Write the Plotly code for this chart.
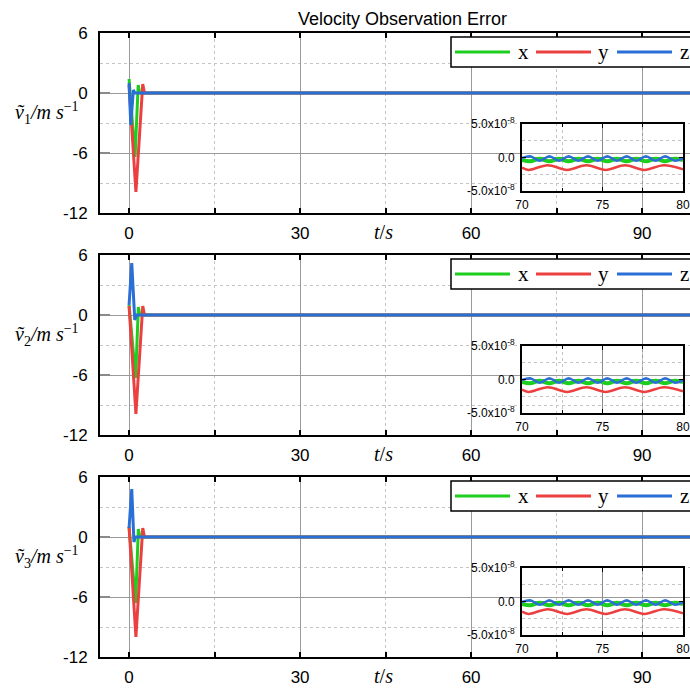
import plotly.graph_objects as go

W, H = 690, 688

# ---------------- data ----------------
# main panels: time (s) and velocity observation error (m/s)
t_x1 = [0, 1.05, 1.6, 1.85, 100]
v_x1 = [1.4, -6.4, 0.8, 0, 0]
t_y1 = [0, 1.2, 2.4, 2.7, 100]
v_y1 = [0.8, -9.9, 0.9, 0, 0]
t_z1 = [0, 0.3, 0.75, 1.0, 100]
v_z1 = [1.0, -3.2, 0.3, 0, 0]

t_x2 = [0, 1.15, 1.63, 1.9, 100]
v_x2 = [1.0, -6.3, 0.8, 0, 0]
t_y2 = [0, 1.2, 2.4, 2.7, 100]
v_y2 = [0.9, -9.9, 0.9, 0, 0]
t_z2 = [0, 0.47, 1.0, 1.3, 100]
v_z2 = [1.0, 5.2, -0.5, 0, 0]

t_x3 = [0, 1.15, 1.63, 1.9, 100]
v_x3 = [1.0, -6.6, 0.8, 0, 0]
t_y3 = [0, 1.2, 2.4, 2.7, 100]
v_y3 = [1.0, -10.0, 0.9, 0, 0]
t_z3 = [0, 0.47, 0.85, 1.1, 100]
v_z3 = [0.9, 4.8, -0.5, 0, 0]

# insets (70-80 s), values in units of 1e-8 m/s
ti_xz = [70.0, 70.5, 71.1, 71.7, 72.3, 72.9, 73.5, 74.1, 74.7, 75.3, 75.9,
         76.5, 77.1, 77.7, 78.3, 78.9, 79.5, 80.0]
vi_z = [-0.1, 0.2, -0.5, 0.2, -0.5, 0.2, -0.5, 0.2, -0.5, 0.2, -0.5,
        0.2, -0.5, 0.2, -0.5, 0.2, -0.5, -0.1]
vi_x = [-0.35, -0.55, -0.2, -0.55, -0.2, -0.55, -0.2, -0.55, -0.2, -0.55, -0.2,
        -0.55, -0.2, -0.55, -0.2, -0.55, -0.2, -0.4]
ti_y = [70.0, 70.4, 71.6, 72.8, 74.0, 75.2, 76.4, 77.6, 78.8, 80.0]
vi_y = [-1.5, -1.85, -1.15, -1.85, -1.15, -1.85, -1.15, -1.85, -1.15, -1.75]

main_x_ticks = [0, 30, 60, 90]
main_y_ticks = [-12, -6, 0, 6]
main_y_text = ["-12", "-6", "0", "6"]
inset_x_ticks = [70, 75, 80]
inset_y_ticks = [-5, 0, 5]
inset_y_text = ["-5.0x10<sup>-8</sup>", "0.0", "5.0x10<sup>-8</sup>"]

names = ["x", "y", "z"]
colors = ["#1ece1e", "#ec4040", "#2a6fd6"]

panels = [
    [(t_x1, v_x1), (t_y1, v_y1), (t_z1, v_z1)],
    [(t_x2, v_x2), (t_y2, v_y2), (t_z2, v_z2)],
    [(t_x3, v_x3), (t_y3, v_y3), (t_z3, v_z3)],
]
inset_series = [(ti_xz, vi_x), (ti_y, vi_y), (ti_xz, vi_z)]

# ---------------- layout helpers ----------------
def px(x):
    return x / W

def py(y):
    return 1 - y / H

tops = [33, 255, 477]
PH = 180

fig = go.Figure()
layout = {}
ann = []
shapes = []
SERIF = "Liberation Serif, Times New Roman, serif"
SANS = "Liberation Sans, Arial, Helvetica, sans-serif"

for i in range(3):
    k = "" if i == 0 else str(i + 1)
    ki = str(i + 4)
    for j in range(3):
        tt, vv = panels[i][j]
        fig.add_trace(go.Scatter(
            x=tt, y=vv, mode="lines", name=names[j],
            line=dict(color=colors[j], width=3),
            xaxis="x" + k, yaxis="y" + k, showlegend=False))
    for j in range(3):
        tt, vv = inset_series[j]
        fig.add_trace(go.Scatter(
            x=tt, y=vv, mode="lines", name=names[j],
            line=dict(color=colors[j], width=4 if j == 0 else 2.5, shape="spline"),
            xaxis="x" + ki, yaxis="y" + ki, showlegend=False))

    top = tops[i]
    bot = top + PH
    layout["xaxis" + k] = dict(
        domain=[px(100), 1], anchor="y" + k, range=[-5.1, 98.4],
        tickmode="array", tickvals=main_x_ticks,
        showgrid=True, gridcolor="#9a9a9a", gridwidth=1,
        ticks="inside", ticklen=5, tickwidth=1.5, tickcolor="black",
        showline=True, linecolor="black", linewidth=2, mirror="ticks",
        zeroline=False, automargin=False, ticklabelstandoff=4,
        tickfont=dict(family=SANS, size=17, color="black"),
        minor=dict(tickvals=[15, 45, 75], showgrid=True, griddash="dot",
                   gridcolor="#c4c4c4", gridwidth=1, ticks="inside", ticklen=5,
                   tickwidth=1.5, tickcolor="black"),
    )
    layout["yaxis" + k] = dict(
        domain=[py(bot), py(top)], anchor="x" + k, range=[-12, 6],
        tickmode="array", tickvals=main_y_ticks, ticktext=main_y_text,
        showgrid=True, gridcolor="#9a9a9a", gridwidth=1,
        ticks="inside", ticklen=10, tickwidth=2, tickcolor="#8a8a8a",
        showline=True, linecolor="black", linewidth=2, mirror=False,
        zeroline=False, automargin=False, ticklabelstandoff=7,
        tickfont=dict(family=SANS, size=17, color="black"),
        minor=dict(tickvals=[-9, -3, 3], showgrid=True, griddash="dot",
                   gridcolor="#c4c4c4", gridwidth=1),
    )
    itop = top + 91
    ibot = itop + 67
    layout["xaxis" + ki] = dict(
        domain=[px(522), px(683)], anchor="y" + ki, range=[70, 80],
        tickmode="array", tickvals=inset_x_ticks,
        showgrid=True, gridcolor="#8a8a8a", gridwidth=1,
        ticks="inside", ticklen=4, tickwidth=1, tickcolor="black",
        showline=True, linecolor="black", linewidth=2, mirror="ticks",
        zeroline=False, automargin=False, ticklabelstandoff=2,
        tickfont=dict(family=SANS, size=12, color="black"),
        minor=dict(tickvals=[72.5, 77.5], showgrid=True, griddash="dot",
                   gridcolor="#c4c4c4", ticks="inside", ticklen=3, tickcolor="black"),
    )
    layout["yaxis" + ki] = dict(
        domain=[py(ibot), py(itop)], anchor="x" + ki, range=[-5, 5],
        tickmode="array", tickvals=inset_y_ticks, ticktext=inset_y_text,
        showgrid=True, gridcolor="#8a8a8a", gridwidth=1,
        ticks="inside", ticklen=4, tickwidth=1, tickcolor="black",
        showline=True, linecolor="black", linewidth=2, mirror="ticks",
        zeroline=False, automargin=False, ticklabelstandoff=3,
        tickfont=dict(family=SANS, size=12, color="black"),
        minor=dict(tickvals=[-2.5, 2.5], showgrid=True, griddash="dot",
                   gridcolor="#c4c4c4"),
    )
    # legend box (drawn by hand so the line samples match the original length)
    shapes.append(dict(type="rect", xref="paper", yref="paper", layer="above",
                       x0=px(451), x1=px(720), y0=py(top + 34), y1=py(top + 4),
                       fillcolor="white", line=dict(color="black", width=1.5)))
    for j, (lx0, tx) in enumerate([(455, 523), (536, 603), (617, 684)]):
        shapes.append(dict(type="line", xref="paper", yref="paper", layer="above",
                           x0=px(lx0), x1=px(lx0 + 55), y0=py(top + 19), y1=py(top + 19),
                           line=dict(color=colors[j], width=3)))
        ann.append(dict(x=px(tx), y=py(top + 19), xref="paper", yref="paper",
                        xanchor="center", yanchor="middle", text=names[j],
                        showarrow=False, font=dict(family=SERIF, size=21, color="black")))
    # axis titles
    ann.append(dict(
        x=px(383), y=py(bot + 19), xref="paper", yref="paper",
        xanchor="center", yanchor="middle",
        text="<i>t</i>/<i>s</i>", showarrow=False,
        font=dict(family=SERIF, size=20, color="black")))
    ann.append(dict(
        x=px(47), y=py(top + 80), xref="paper", yref="paper",
        xanchor="center", yanchor="middle",
        text=f"<i>v\u0303</i><sub>{i+1}</sub><i>/m s</i><sup>\u22121</sup>", showarrow=False,
        font=dict(family=SERIF, size=20, color="black")))

ann.append(dict(
    x=px(402), y=py(19), xref="paper", yref="paper",
    xanchor="center", yanchor="middle",
    text="Velocity Observation Error", showarrow=False,
    font=dict(family=SANS, size=18, color="black")))

fig.update_layout(
    width=W, height=H, margin=dict(l=0, r=0, t=0, b=0, autoexpand=False),
    paper_bgcolor="white", plot_bgcolor="rgba(0,0,0,0)", showlegend=False,
    annotations=ann, shapes=shapes, **layout)

fig.write_html("out.html")
